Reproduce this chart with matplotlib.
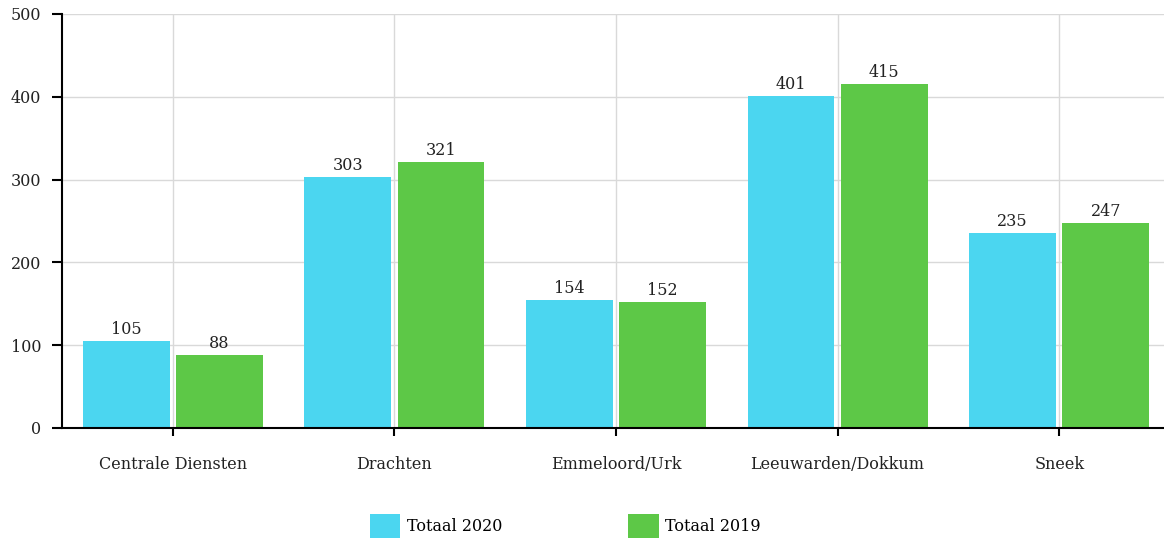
import numpy as np
from matplotlib import pyplot as plt

categories = ["Centrale Diensten", "Drachten", "Emmeloord/Urk", "Leeuwarden/Dokkum", "Sneek"]
totaal_2020 = [105, 303, 154, 401, 235]
totaal_2019 = [88, 321, 152, 415, 247]
yticks = [0, 100, 200, 300, 400, 500]

plt.rcParams['font.family'] = ['DejaVu Serif']
FS = 11.5

fig = plt.figure(figsize=(11.64, 5.39), dpi=100)
ax = fig.add_axes([62 / 1164, 1 - 428 / 539, 1 - 62 / 1164, (428 - 14) / 539])

x = np.arange(len(categories))
w = 0.392
b1 = ax.bar(x - 0.21, totaal_2020, w, color='#4bd6f0', label='Totaal 2020', zorder=2)
b2 = ax.bar(x + 0.21, totaal_2019, w, color='#5dc847', label='Totaal 2019', zorder=2)

for bars, vals in ((b1, totaal_2020), (b2, totaal_2019)):
    for rect, v in zip(bars, vals):
        ax.text(rect.get_x() + rect.get_width() / 2, v + 4, str(v),
                ha='center', va='bottom', fontsize=FS, color='#222222')

ax.set_xlim(-0.5, 4.5 - 6 / 221.7)
ax.set_ylim(0, 500)
ax.set_xticks(x)
ax.set_xticklabels(categories, fontsize=FS, color='#222222')
ax.set_yticks(yticks)
ax.set_yticklabels([str(t) for t in yticks], fontsize=FS, color='#222222')
ax.tick_params(axis='x', length=6, width=1.5, pad=14)
ax.tick_params(axis='y', length=7, width=1.5, pad=8)

ax.grid(True, color='#d9d9d9', linewidth=1, zorder=0)
ax.set_axisbelow(True)
for s in ('top', 'right'):
    ax.spines[s].set_visible(False)
for s in ('left', 'bottom'):
    ax.spines[s].set_linewidth(1.5)
    ax.spines[s].set_color('black')

fig.legend(handles=[b1, b2], loc='upper left', bbox_to_anchor=(370 / 1164, 1 - 514 / 539),
           ncol=2, frameon=False, fontsize=FS, handlelength=1.9, handleheight=1.9,
           handletextpad=0.4, columnspacing=7.9, borderaxespad=0, borderpad=0)

fig.savefig('out.png', dpi=100)
